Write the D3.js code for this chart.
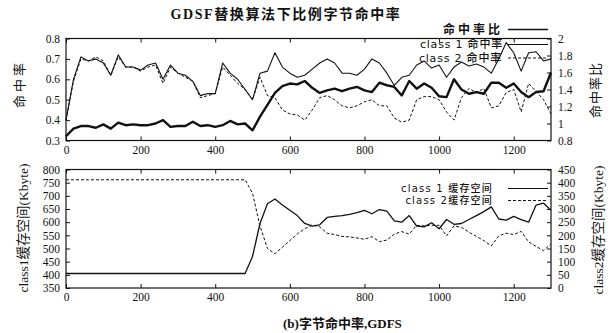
<!DOCTYPE html>
<html>
<head>
<meta charset="utf-8">
<script src="https://cdn.jsdelivr.net/npm/d3@7"></script>
<style>
  body { margin: 0; background: #fff; }
  svg { display: block; }
  .tick text { font-family: "Liberation Serif", "DejaVu Serif", serif; font-size: 11.5px; fill: #111; }
  .tick line { stroke: #111; }
</style>
</head>
<body>
<svg id="chart" width="616" height="333"></svg>
<script>
// sample positions (request number)
const steps = d3.range(0, 1301, 20);

// top panel: byte hit rate of each class, and their ratio (right axis)
const class1Hit = [0.40,0.60,0.71,0.69,0.70,0.68,0.62,0.72,0.66,0.66,
  0.645,0.67,0.68,0.60,0.67,0.63,0.62,0.59,0.52,0.53,
  0.53,0.68,0.63,0.60,0.55,0.50,0.63,0.64,0.73,0.66,
  0.63,0.61,0.62,0.65,0.68,0.70,0.68,0.63,0.63,0.62,
  0.65,0.70,0.68,0.63,0.57,0.61,0.62,0.67,0.69,0.655,
  0.67,0.61,0.66,0.685,0.665,0.675,0.66,0.63,0.70,0.78,
  0.73,0.64,0.73,0.735,0.69,0.70];
const class2Hit = [0.40,0.59,0.70,0.69,0.71,0.69,0.62,0.71,0.66,0.66,
  0.64,0.66,0.67,0.58,0.66,0.63,0.61,0.59,0.51,0.52,
  0.53,0.66,0.62,0.58,0.55,0.50,0.61,0.52,0.51,0.45,
  0.43,0.425,0.40,0.45,0.51,0.52,0.50,0.47,0.46,0.47,
  0.49,0.50,0.47,0.47,0.41,0.39,0.40,0.50,0.515,0.515,
  0.50,0.44,0.40,0.51,0.555,0.535,0.555,0.46,0.47,0.535,
  0.55,0.44,0.58,0.54,0.50,0.43];
const hitRatio = [0.85,0.94,0.97,0.97,0.95,0.99,0.94,1.01,0.98,0.99,
  0.98,0.98,1.00,1.04,0.96,0.97,0.97,1.02,0.97,0.98,
  0.96,0.98,1.03,0.99,1.00,0.92,1.08,1.22,1.36,1.44,
  1.47,1.46,1.50,1.42,1.36,1.39,1.41,1.38,1.41,1.43,
  1.39,1.37,1.48,1.45,1.43,1.33,1.50,1.41,1.47,1.42,
  1.32,1.31,1.52,1.40,1.35,1.37,1.35,1.48,1.48,1.42,
  1.47,1.37,1.31,1.37,1.38,1.60];

// bottom panel: cache space (Kbyte), class 2 on the right axis
const class1Space = [405,405,405,405,405,405,405,405,405,405,
  405,405,405,405,405,405,405,405,405,405,
  405,405,405,405,405,470,595,670,688,665,
  645,625,595,585,590,618,622,625,630,636,
  645,632,648,642,605,600,625,585,582,598,
  575,610,592,595,610,625,640,658,612,608,
  622,610,600,665,672,645];
const class2Space = [411,411,411,411,411,411,411,411,411,411,
  411,411,411,411,411,411,411,411,411,411,
  411,411,411,411,411,360,235,150,130,155,
  180,205,225,240,232,208,203,196,194,190,
  185,195,176,182,205,214,205,238,236,238,
  238,198,236,230,212,196,180,160,198,208,
  203,215,175,158,142,168];

const xTicks = [0, 200, 400, 600, 800, 1000, 1200];
const hitTicks = [0.3, 0.4, 0.5, 0.6, 0.7, 0.8];
const ratioTicks = [0.8, 1, 1.2, 1.4, 1.6, 1.8, 2];
const space1Ticks = [350, 400, 450, 500, 550, 600, 650, 700, 750, 800];
const space2Ticks = [0, 50, 100, 150, 200, 250, 300, 350, 400, 450];

const svg = d3.select("#chart");
const cjk = '"Liberation Serif", "Noto Sans CJK SC", serif';
const left = 66, right = 551;

const x = d3.scaleLinear().domain([0, 1300]).range([left, right]);

function panel(y0, y1, yl, yr, lTicks, rTicks, fmtL, fmtR) {
  const g = svg.append("g");
  g.append("g").attr("transform", `translate(0,${y1})`)
    .call(d3.axisBottom(x).tickValues(xTicks).tickSize(-4).tickPadding(5).tickFormat(d3.format("d")))
    .call(a => a.select(".domain").remove());
  g.append("g").attr("transform", `translate(0,${y0})`)
    .call(d3.axisTop(x).tickValues(xTicks).tickSize(-4).tickFormat(""))
    .call(a => a.select(".domain").remove());
  g.append("g").attr("transform", `translate(${left},0)`)
    .call(d3.axisLeft(yl).tickValues(lTicks).tickSize(-4).tickPadding(6).tickFormat(fmtL))
    .call(a => a.select(".domain").remove());
  g.append("g").attr("transform", `translate(${right},0)`)
    .call(d3.axisRight(yr).tickValues(rTicks).tickSize(-4).tickPadding(7).tickFormat(fmtR))
    .call(a => a.select(".domain").remove());
  g.append("rect").attr("x", left).attr("y", y0)
    .attr("width", right - left).attr("height", y1 - y0)
    .attr("fill", "none").attr("stroke", "#111").attr("stroke-width", 1.2);
  return g;
}

function drawLine(g, scale, values, width, dash) {
  g.append("path")
    .datum(values)
    .attr("fill", "none")
    .attr("stroke", "#111")
    .attr("stroke-width", width)
    .attr("stroke-dasharray", dash || null)
    .attr("stroke-linejoin", "round")
    .attr("d", d3.line().x((d, i) => x(steps[i])).y(d => scale(d)));
}

function legendRow(text, y, endX, size, dash, width, weight, spacing) {
  svg.append("text").attr("x", endX).attr("y", y + size * 0.36)
    .attr("text-anchor", "end")
    .attr("font-family", '"DejaVu Sans", "Noto Sans CJK SC", sans-serif')
    .attr("font-size", size).attr("font-weight", weight || "normal")
    .attr("letter-spacing", spacing || 0)
    .attr("fill", "#111").text(text);
  svg.append("line").attr("x1", 508).attr("x2", 548).attr("y1", y).attr("y2", y)
    .attr("stroke", "#111").attr("stroke-width", width)
    .attr("stroke-dasharray", dash || null);
}

// ---- top panel
const yHit = d3.scaleLinear().domain([0.3, 0.8]).range([140.5, 38.5]);
const yRatio = d3.scaleLinear().domain([0.8, 2]).range([140.5, 38.5]);
const hitPanel = panel(38.5, 140.5, yHit, yRatio, hitTicks, ratioTicks, d3.format(".1f"), d => d3.format("")(d));
drawLine(hitPanel, yHit, class2Hit, 1, "3,2");
drawLine(hitPanel, yHit, class1Hit, 1.1);
drawLine(hitPanel, yRatio, hitRatio, 2.4);

// ---- bottom panel
const ySpace1 = d3.scaleLinear().domain([350, 800]).range([288, 169.5]);
const ySpace2 = d3.scaleLinear().domain([0, 450]).range([288, 169.5]);
const spacePanel = panel(169.5, 288, ySpace1, ySpace2, space1Ticks, space2Ticks, d3.format("d"), d3.format("d"));
drawLine(spacePanel, ySpace2, class2Space, 1, "3,2");
drawLine(spacePanel, ySpace1, class1Space, 1.3);

// ---- legends
legendRow("命中率比", 29.5, 503, 12, null, 1.4, "bold", 3);
legendRow("class 1 命中率", 44.5, 503, 11, null, 1.1, "500", 0.8);
legendRow("class 2 命中率", 58, 502, 11, "3,2", 1, "500", 0.8);
legendRow("class 1 缓存空间", 188.5, 493, 10, null, 1.2, "500", 1.2);
legendRow("class 2缓存空间", 200.5, 493, 10, "3,2", 1, "500", 1.2);

// ---- titles and axis labels
svg.append("text").attr("x", 286).attr("y", 19).attr("text-anchor", "middle")
  .attr("font-family", cjk).attr("font-size", 14).attr("font-weight", "bold")
  .attr("letter-spacing", 1.6).attr("fill", "#111").text("GDSF替换算法下比例字节命中率");
svg.append("text").attr("x", 283).attr("y", 328)
  .attr("font-family", cjk).attr("font-size", 13).attr("font-weight", "bold")
  .attr("fill", "#111").text("(b)字节命中率,GDFS");

function vLabel(text, cx, cy, size, spacing) {
  svg.append("text")
    .attr("transform", `translate(${cx},${cy}) rotate(-90)`)
    .attr("text-anchor", "middle").attr("dy", "0.35em")
    .attr("font-family", cjk).attr("font-size", size)
    .attr("letter-spacing", spacing || 0)
    .attr("fill", "#111").text(text);
}
vLabel("命中率", 19, 84, 13, 3);
vLabel("命中率比", 595, 90, 13, 1);
vLabel("class1缓存空间(Kbyte)", 23, 228, 13.5);
vLabel("class2缓存空间(Kbyte)", 598, 230, 13.5);
</script>
</body>
</html>
